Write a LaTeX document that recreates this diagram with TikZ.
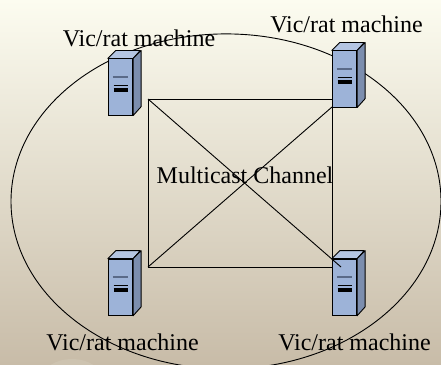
\documentclass[tikz,border=0pt]{standalone}
\usepackage{fontspec}
\setmainfont{Liberation Serif}
\usetikzlibrary{shapes.geometric}

\definecolor{bgtop}{HTML}{FCFCF0}
\definecolor{bgmid}{HTML}{EAE6D4}
\definecolor{bgbot}{HTML}{C8BCA8}
\definecolor{bgblob}{HTML}{CDC3B0}
\definecolor{facefront}{HTML}{9DB3D8}
\definecolor{facetop}{HTML}{B4C5E2}
\definecolor{faceside}{HTML}{7C8EAE}
\definecolor{slotgrey}{HTML}{5A6A88}

\begin{document}
\begin{tikzpicture}[x=1pt,y=-1pt,line width=0.9pt,
  server/.style={rectangle,draw=black,fill=facefront,inner sep=0pt,
    minimum width=24.4pt,minimum height=56.2pt},
  label node/.style={inner sep=0pt,font=\fontsize{24}{26}\selectfont}]

  \useasboundingbox (0,0) rectangle (441,364);
  \shade[top color=bgtop,middle color=bgmid,bottom color=bgbot] (0,0) rectangle (441,364);
  \begin{scope}
    \clip (0,0) rectangle (441,364);
    \fill[bgblob] (72,379) ellipse (30pt and 20pt);
  \end{scope}

  % corners of the channel
  \coordinate (c1) at (148,99);
  \coordinate (c2) at (332,99);
  \coordinate (c3) at (148,267);
  \coordinate (c4) at (332,267);
  \coordinate (c5) at (341,267);
  \coordinate (c6) at (332,107);

  \node[ellipse,draw,minimum width=430pt,minimum height=335pt,inner sep=0pt] (ring) at (226,201.4) {};

  \node[label node] (l1) at (139,38) {Vic/rat machine};
  \node[label node] (l2) at (346.5,24) {Vic/rat machine};
  \node[label node] (l3) at (122.5,342) {Vic/rat machine};
  \node[label node] (l4) at (354.5,342) {Vic/rat machine};
  \node[label node] (mc) at (245,175) {Multicast Channel};

  \path
    (c1) edge (c2)
         edge (c3)
    (c2) edge (c6)
    (c6) edge (c4)
         edge (c3)
    (c3) edge (c4);

  \node[server] (s1) at (120.5,87) {};
  \node[server] (s2) at (344.5,79) {};
  \node[server] (s3) at (120.5,287.2) {};
  \node[server] (s4) at (344.5,287.2) {};

  % top, side and slots of each machine
  \foreach \n in {s1,s2,s3,s4} {
    \draw[fill=facetop,line join=round] (\n.north west) -- ++(8,-8) -- ++(24.4,0)
      -- (\n.north east) -- cycle;
    \draw[fill=faceside,line join=round] (\n.north east) -- ++(8,-8) -- ++(0,56.2)
      -- (\n.south east) -- cycle;
    \draw[slotgrey,line width=1.8pt] ([shift={(-7.6,-10)}]\n.center) -- ++(15.2,0);
    \draw[line width=0.9pt] ([shift={(-7,-1.7)}]\n.center) -- ++(14,0);
    \draw[line width=3.8pt] ([shift={(-7,2.8)}]\n.center) -- ++(14,0);
  }
  \draw (c1) -- (c5);
\end{tikzpicture}
\end{document}
